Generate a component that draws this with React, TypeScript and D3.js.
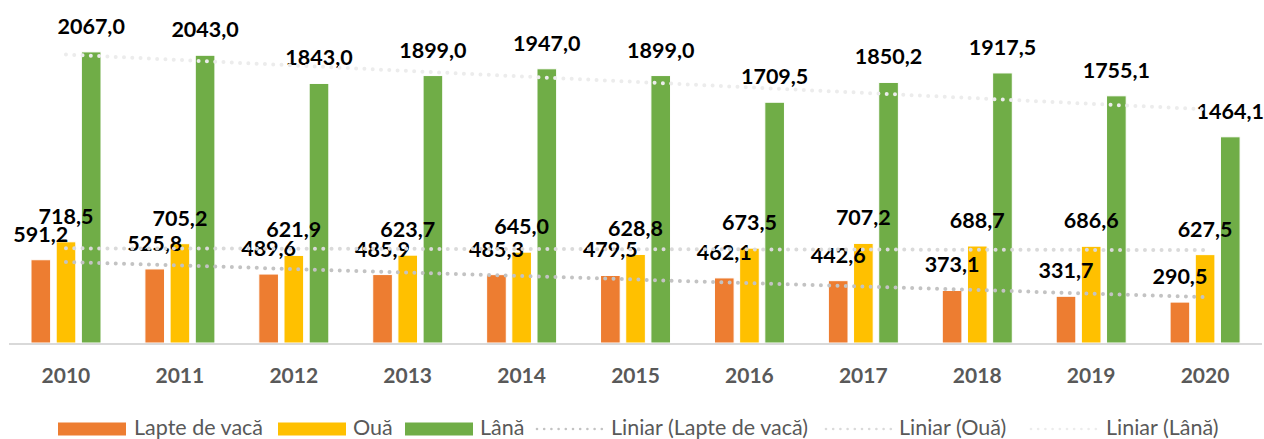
import React, { useEffect, useRef } from "react";
import * as d3 from "d3";

const years = ["2010", "2011", "2012", "2013", "2014", "2015", "2016", "2017", "2018", "2019", "2020"];
const lapte = [591.2, 525.8, 489.6, 485.9, 485.3, 479.5, 462.1, 442.6, 373.1, 331.7, 290.5];
const oua = [718.5, 705.2, 621.9, 623.7, 645.0, 628.8, 673.5, 707.2, 688.7, 686.6, 627.5];
const lana = [2067.0, 2043.0, 1843.0, 1899.0, 1947.0, 1899.0, 1709.5, 1850.2, 1917.5, 1755.1, 1464.1];
const seriesNames = ["Lapte de vacă", "Ouă", "Lână"];
const seriesColors = ["#ED7D31", "#FFC000", "#70AD47"];
const trendColors = ["#c3c3c3", "#dadada", "#ececec"];

const W = 1264, H = 439;
const fmt = (v: number) => v.toFixed(1).replace(".", ",");

function linreg(vals: number[]) {
  const n = vals.length;
  const xs = d3.range(n);
  const mx = d3.mean(xs)!, my = d3.mean(vals)!;
  let num = 0, den = 0;
  xs.forEach((x, i) => { num += (x - mx) * (vals[i] - my); den += (x - mx) ** 2; });
  const b = num / den;
  return (x: number) => my + b * (x - mx);
}

export default function App() {
  const ref = useRef<SVGSVGElement>(null);
  useEffect(() => {
    const node = ref.current;
    if (!node) return;
    const svg = d3.select(node);
    svg.selectAll("*").remove();
    const data = [lapte, oua, lana];
    const base = 343;
    const x0 = d3.scaleBand().domain(years).range([9, 1262]).padding(0);
    const x1 = d3.scaleBand().domain(seriesNames).range([22, 92]).paddingInner(0.22);
    const y = d3.scaleLinear().domain([0, 2400]).range([base, 5]);
    const font = "Lato, 'Open Sans', sans-serif";

    // bars
    data.forEach((vals, si) => {
      svg.append("g").selectAll("rect").data(vals).enter().append("rect")
        .attr("x", (_d, i) => x0(years[i])! + x1(seriesNames[si])!)
        .attr("y", (d) => y(d))
        .attr("width", x1.bandwidth())
        .attr("height", (d) => base - y(d))
        .attr("fill", seriesColors[si])
        .attr("stroke", "#fff").attr("stroke-width", 1);
    });

    // axis line
    svg.append("line").attr("x1", 9).attr("x2", 1262).attr("y1", base + 1).attr("y2", base + 1)
      .attr("stroke", "#d9d9d9").attr("stroke-width", 2);

    // year labels
    svg.append("g").selectAll("text").data(years).enter().append("text")
      .attr("x", (d) => x0(d)! + x0.bandwidth() / 2)
      .attr("y", 383)
      .attr("text-anchor", "middle")
      .attr("font-family", font).attr("font-weight", 700).attr("font-size", 21)
      .attr("fill", "#595959")
      .text((d) => d);

    // data labels
    data.forEach((vals, si) => {
      svg.append("g").selectAll("text").data(vals).enter().append("text")
        .attr("x", (_d, i) => x0(years[i])! + x1(seriesNames[si])! + x1.bandwidth() / 2)
        .attr("y", (d) => y(d) - 18)
        .attr("text-anchor", "middle")
        .attr("font-family", font).attr("font-weight", 700).attr("font-size", 21.5)
        .attr("fill", "#000")
        .text((d) => fmt(d));
    });

    // trendlines
    const cx = (i: number) => x0(years[i])! + x0.bandwidth() / 2;
    data.forEach((vals, si) => {
      const f = linreg(vals);
      const n = vals.length - 1;
      svg.append("line")
        .attr("x1", cx(0)).attr("y1", y(f(0)))
        .attr("x2", cx(n)).attr("y2", y(f(n)))
        .attr("stroke", trendColors[si]).attr("stroke-width", 4)
        .attr("stroke-linecap", "round").attr("stroke-dasharray", "0 8.3");
    });

    // legend
    const ly = 429;
    const lg = svg.append("g").attr("font-family", font).attr("font-size", 21.5).attr("fill", "#595959");
    const swatchX = [58, 278, 405];
    const swatchT = [134, 353, 480];
    seriesNames.forEach((s, i) => {
      lg.append("rect").attr("x", swatchX[i]).attr("y", ly - 6.5).attr("width", 68).attr("height", 13).attr("fill", seriesColors[i]);
      lg.append("text").attr("x", swatchT[i]).attr("y", ly + 5.5).text(s);
    });
    const dotX = [535, 824, 1029];
    const dotT = [611, 899, 1106];
    seriesNames.forEach((s, i) => {
      lg.append("line").attr("x1", dotX[i] + 2).attr("x2", dotX[i] + 68).attr("y1", ly).attr("y2", ly)
        .attr("stroke", trendColors[i]).attr("stroke-width", 2.6)
        .attr("stroke-linecap", "round").attr("stroke-dasharray", "0 7.2");
      lg.append("text").attr("x", dotT[i]).attr("y", ly + 5.5).text(`Liniar (${s})`);
    });
  }, []);
  return (
    <svg ref={ref} width={W} height={H} viewBox={`0 0 ${W} ${H}`}
      style={{ position: "absolute", left: 0, top: 0, background: "#fff" }} />
  );
}
